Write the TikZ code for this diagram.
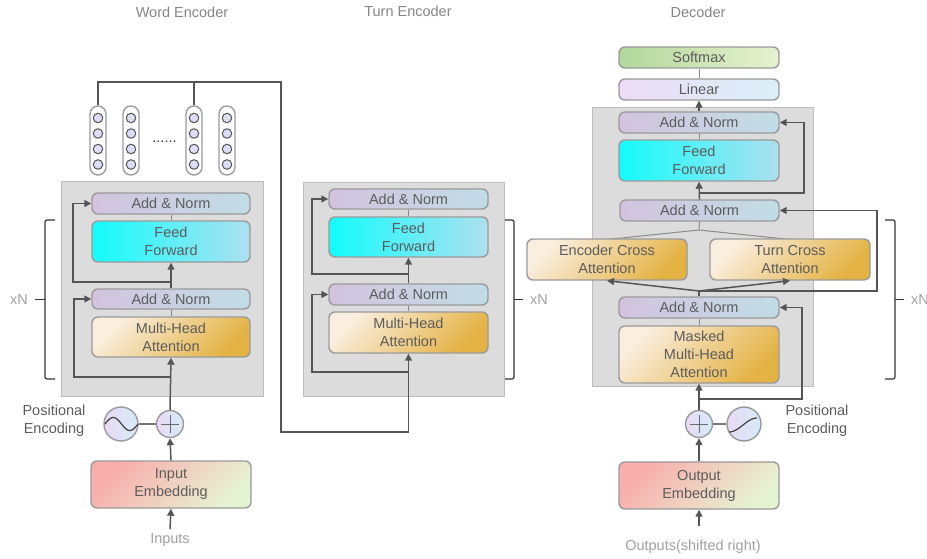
\documentclass[tikz,border=0pt]{standalone}
\usepackage{fontspec}
\setmainfont{Liberation Sans}
\usetikzlibrary{arrows.meta,calc}

\definecolor{boxline}{HTML}{9A9A9A}
\definecolor{txt}{HTML}{5C5C5C}
\definecolor{bgfill}{HTML}{DCDCDC}
\definecolor{bgline}{HTML}{BCBCBC}
\definecolor{conn}{HTML}{555555}
\definecolor{thin}{HTML}{8A8A8A}
\definecolor{anL}{HTML}{D3C3DE}
\definecolor{anR}{HTML}{C1DDE6}
\definecolor{ffL}{HTML}{12FCFC}
\definecolor{ffR}{HTML}{ADE0F0}
\definecolor{atL}{HTML}{FAEEDF}
\definecolor{atR}{HTML}{E4B243}
\definecolor{emL}{HTML}{F9ADAD}
\definecolor{emR}{HTML}{E6F3D3}
\definecolor{smL}{HTML}{B2D79B}
\definecolor{smR}{HTML}{E6F2CF}
\definecolor{lnL}{HTML}{EDDCF7}
\definecolor{lnR}{HTML}{D9F0F8}
\definecolor{ciL}{HTML}{E9D9F5}
\definecolor{ciR}{HTML}{D5EBF8}
\definecolor{neur}{HTML}{DCDCF6}
\definecolor{ttl}{HTML}{858585}
\definecolor{rep}{HTML}{A0A0A0}

\tikzset{
  base/.style={draw=boxline, line width=1.4pt, rounded corners=6pt, inner sep=0pt,
    text=txt, align=center, font=\fontsize{14.5}{18}\selectfont},
  anorm/.style={base, left color=anL, right color=anR, minimum height=21pt},
  ffwd/.style={base, left color=ffL, right color=ffR, minimum height=41pt},
  attn/.style={base, top color=atL, bottom color=atR, shading angle=45},
  embed/.style={base, top color=emL, bottom color=emR, shading angle=45, minimum width=160pt, minimum height=47pt},
  smax/.style={base, left color=smL, right color=smR, minimum width=160pt, minimum height=21pt},
  linr/.style={base, left color=lnL, right color=lnR, minimum width=160pt, minimum height=21pt},
  stack/.style={draw=bgline, fill=bgfill, line width=1pt, inner sep=0pt},
  circ/.style={circle, draw=boxline, line width=1.4pt, left color=ciL, right color=ciR, inner sep=0pt},
  capsule/.style={draw=boxline, fill=white, line width=1.4pt, rounded corners=7.9pt, inner sep=0pt,
    minimum width=16pt, minimum height=69pt},
  neuron/.style={circle, draw=conn, fill=neur, line width=1pt, inner sep=0pt, minimum size=9.5pt},
  arr/.style={draw=conn, line width=1.5pt, -{Triangle[length=7pt,width=7pt]}},
  link/.style={draw=conn, line width=1.5pt},
  thinlink/.style={draw=thin, line width=1pt},
  brace/.style={draw=black!80, line width=1.2pt, rounded corners=2pt},
  label/.style={text=txt, align=center, font=\fontsize{14.5}{18}\selectfont, inner sep=0pt},
  heading/.style={text=ttl, font=\fontsize{14.5}{18}\selectfont, inner sep=0pt},
  repeat/.style={text=rep, font=\fontsize{14.5}{18}\selectfont, inner sep=0pt},
}

\begin{document}
\begin{tikzpicture}[x=1pt,y=-1pt]
\useasboundingbox (0,0) rectangle (927,559);

% ---------- headings ----------
\node[heading] (hw) at (182,12) {Word Encoder};
\node[heading] (ht) at (408,11) {Turn Encoder};
\node[heading] (hd) at (698,12) {Decoder};

% ---------- layer stacks ----------
\node[stack, minimum width=202pt, minimum height=214pt] (wbg) at (162,289) {};
\node[stack, minimum width=201pt, minimum height=213pt] (tbg) at (403.5,289.5) {};
\node[stack, minimum width=221pt, minimum height=278pt] (dbg) at (702.5,247) {};

% ---------- word encoder ----------
\node[anorm, minimum width=158pt] (wan2) at (171,203.5) {Add \& Norm};
\node[ffwd, minimum width=158pt] (wff) at (171,241.5) {Feed\\Forward};
\node[anorm, minimum width=158pt, minimum height=20pt] (wan1) at (171,299) {Add \& Norm};
\node[attn, minimum width=158pt, minimum height=40pt] (wmha) at (171,337) {Multi-Head\\Attention};
\node[embed] (wemb) at (171,484.5) {Input\\Embedding};
\node[circ, minimum size=27pt] (wplus) at (170,424) {};
\node[circ, minimum size=34pt] (wsin) at (121,424) {};
\node[label] (wpe) at (54,421) {Positional\\Encoding};
\node[text=rep, font=\fontsize{14.5}{18}\selectfont, inner sep=0pt] (win) at (170,540) {Inputs};
\coordinate (winb) at (170,529);

% word vectors
\foreach \i/\x in {1/98,2/131,3/194,4/227}{
  \node[capsule] (cap\i) at (\x,140.5) {};
  \foreach \y in {118,133.5,149,164.5}
    \node[neuron] at (\x,\y) {};
}
\node[text=black!80, font=\fontsize{14.5}{18}\selectfont, inner sep=0pt] (wdots) at (164.5,142) {......};

% ---------- turn encoder ----------
\node[anorm, minimum width=159pt, minimum height=20pt] (tan2) at (408.5,199) {Add \& Norm};
\node[ffwd, minimum width=159pt, minimum height=40pt] (tff) at (408.5,237) {Feed\\Forward};
\node[anorm, minimum width=159pt] (tan1) at (408.5,294.5) {Add \& Norm};
\node[attn, minimum width=159pt, minimum height=41pt] (tmha) at (408.5,332.5) {Multi-Head\\Attention};

% ---------- decoder ----------
\node[smax] (soft) at (699,57.5) {Softmax};
\node[linr] (lin) at (699,89.5) {Linear};
\node[anorm, minimum width=160pt] (dan3) at (699,122.5) {Add \& Norm};
\node[ffwd, minimum width=160pt] (dff) at (699,160.5) {Feed\\Forward};
\node[anorm, minimum width=159pt] (dan2) at (699.5,210.5) {Add \& Norm};
\coordinate (dsplit) at (699,230);
\draw[thinlink] (dan2.south) -- (dsplit);
\draw[thinlink] (dsplit) -- (607,239.5);
\draw[thinlink] (dsplit) -- (790,239.5);
\node[attn, minimum width=160pt, minimum height=41pt] (encx) at (607,259.5) {Encoder Cross\\Attention};
\node[attn, minimum width=160pt, minimum height=41pt] (turnx) at (790,259.5) {Turn Cross\\Attention};
\node[anorm, minimum width=160pt] (dan1) at (699,307.5) {Add \& Norm};
\node[attn, minimum width=160pt, minimum height=57pt] (dmmha) at (699,354.5) {Masked\\Multi-Head\\Attention};
\node[embed] (demb) at (699,485.5) {Output\\Embedding};
\node[circ, minimum size=27pt] (dplus) at (699,424) {};
\node[circ, minimum size=34pt] (dsin) at (744,424) {};
\node[label] (dpe) at (817,421) {Positional\\Encoding};
\node[text=rep, font=\fontsize{14.5}{18}\selectfont, inner sep=0pt] (dout) at (693,546.5) {Outputs(shifted right)};
\coordinate (doutb) at (699,526);

% ---------- circle glyphs ----------
\foreach \c in {wplus,dplus}{
  \draw[draw=txt!90, line width=1pt] ($(\c.center)+(-9,0)$) -- ($(\c.center)+(9,0)$);
  \draw[draw=txt!90, line width=1pt] ($(\c.center)+(0,-9)$) -- ($(\c.center)+(0,9)$);
}
\draw[draw=black!75, line width=1.2pt] plot[domain=0:1, samples=40] ({105+33*\x},{424-6.5*sin(360*\x)});
\draw[draw=black!75, line width=1.2pt] plot[domain=0:1, samples=40] ({729+28*\x},{425+7*cos(180*\x)});
\draw[draw=conn!80, line width=1.2pt] (wsin.east) -- (wplus.west);
\draw[draw=conn!80, line width=1.2pt] (dplus.east) -- (dsin.west);

% ---------- word encoder flow ----------
\draw[arr] (winb) -- (wemb.south);
\draw[arr] (wemb.north) -- (wplus.south);
\draw[arr] (wplus.north) -- (wmha.south);
\coordinate (wr1) at (171,377);
\draw[arr] (wr1) -- (74,377) |- (wan1.west);
\draw[thinlink] (wmha.north) -- (wan1.south);
\draw[arr] (wan1.north) -- (wff.south);
\coordinate (wr2) at (171,282);
\draw[arr] (wr2) -- (73,282) |- (wan2.west);
\draw[thinlink] (wff.north) -- (wan2.south);

% word vectors feed the turn encoder
\coordinate (wtop) at (281,82);
\coordinate (tin) at (408.5,432);
\draw[link] (cap3.north) -- (194,82);
\draw[arr] (cap1.north) -- (98,82) -- (wtop) -- (281,432) -- (tin) -- (tmha.south);

% ---------- turn encoder flow ----------
\coordinate (tr1) at (408.5,372);
\draw[arr] (tr1) -- (312,372) |- (tan1.west);
\draw[thinlink] (tmha.north) -- (tan1.south);
\draw[arr] (tan1.north) -- (tff.south);
\coordinate (tr2) at (408.5,274);
\draw[arr] (tr2) -- (312,274) |- (tan2.west);
\draw[thinlink] (tff.north) -- (tan2.south);

% ---------- decoder flow ----------
\draw[arr] (doutb) -- (demb.south);
\draw[arr] (demb.north) -- (dplus.south);
\draw[arr] (dplus.north) -- (dmmha.south);
\coordinate (dr1) at (699,399);
\draw[arr] (dr1) -- (802,399) |- (dan1.east);
\draw[thinlink] (dmmha.north) -- (dan1.south);
\coordinate (dfork) at (699,291);
\draw[link] (dan1.north) -- (dfork);
\draw[arr] (dfork) -- (encx.south);
\draw[arr] (dfork) -- (turnx.south);
\draw[arr] (dfork) -- (877,291) |- (dan2.east);
\draw[arr] (dan2.north) -- (dff.south);
\coordinate (dr2) at (699,193);
\draw[arr] (dr2) -- (804,193) |- (dan3.east);
\draw[thinlink] (dff.north) -- (dan3.south);
\draw[arr] (dan3.north) -- (lin.south);
\draw[thinlink] (lin.north) -- (soft.south);

% ---------- repetition braces ----------
\draw[brace] (55,220) -- (45,220) -- (45,379) -- (55,379);
\draw[brace] (45,299.5) -- (35,299.5);
\node[repeat] (wxn) at (19,300) {xN};

\draw[brace] (505,220) -- (514,220) -- (514,379) -- (505,379);
\draw[brace] (514,299.5) -- (523,299.5);
\node[repeat] (txn) at (539,300) {xN};

\draw[brace] (885,220) -- (895,220) -- (895,379) -- (885,379);
\draw[brace] (895,299.5) -- (904,299.5);
\node[repeat, anchor=west] (dxn) at (911,300) {xN};
\end{tikzpicture}
\end{document}
